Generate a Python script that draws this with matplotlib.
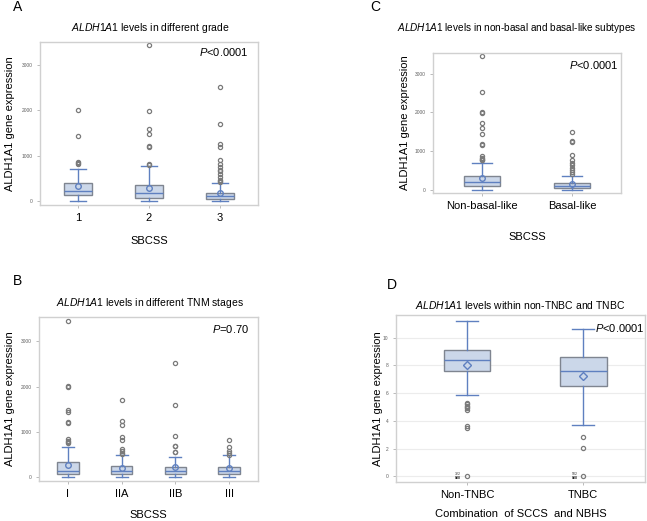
import matplotlib
matplotlib.use("Agg")
import matplotlib.pyplot as plt

plt.rcParams["font.family"] = ["Liberation Sans", "DejaVu Sans"]
plt.rcParams["mathtext.fontset"] = "custom"
plt.rcParams["mathtext.it"] = "Liberation Sans:italic"
plt.rcParams["mathtext.rm"] = "Liberation Sans"

# panel A: grade
a_labels = ["1", "2", "3"]
a_q1 = [125, 66, 52]
a_med = [228, 170, 110]
a_q3 = [390, 346, 184]
a_lo = [0, 0, 0]
a_hi = [700, 774, 405]
a_mean = [330, 287, 170]
a_out = [[2020, 1430, 862, 830, 810],
         [3450, 1990, 1590, 1475, 1225, 1195, 811, 790],
         [2520, 1710, 1253, 1194, 899, 818, 759, 685, 670, 590, 538, 472, 450, 427]]

# panel B: TNM stage
b_labels = ["I", "IIA", "IIB", "III"]
b_q1 = [66, 73, 66, 73]
b_med = [139, 147, 139, 147]
b_q3 = [337, 242, 220, 235]
b_lo = [0, 0, 0, 0]
b_hi = [675, 492, 455, 484]
b_mean = [271, 213, 225, 198]
b_out = [[3441, 2010, 1990, 1482, 1438, 1211, 1190, 844, 800, 775, 760],
         [1709, 1247, 1159, 880, 829, 616, 575, 545, 510],
         [2524, 1592, 902, 697, 680, 565, 550],
         [822, 675, 587, 528, 492]]

# panel C: subtype
c_labels = ["Non-basal-like", "Basal-like"]
c_q1 = [103, 43]
c_med = [198, 103]
c_q3 = [353, 172]
c_lo = [0, 0]
c_hi = [698, 353]
c_mean = [302, 147]
c_out = [[3448, 2526, 2009, 1990, 1716, 1603, 1431, 1190, 1150, 871, 830, 802, 780, 760],
         [1483, 1250, 1230, 897, 759, 690, 629, 569, 500, 448, 405]]

# panel D: TNBC
d_labels = ["Non-TNBC", "TNBC"]
d_q1 = [7.61, 6.53]
d_med = [8.39, 7.59]
d_q3 = [9.11, 8.63]
d_lo = [5.86, 3.69]
d_hi = [11.23, 10.63]
d_mean = [8.02, 7.23]
d_out = [[5.3, 5.2, 5.1, 5.0, 4.9, 4.8, 3.6, 3.5, 0],
         [2.84, 2.02, 0]]
d_ids = ["322", "502"]

BOX_FILL = "#cbd7e9"
BOX_EDGE = "#7f8590"
BLUE = "#5f80c0"
FRAME = "#d0d0d0"
W, H = 647, 521


def make_stats(q1, med, q3, lo, hi, mean, out):
    return [dict(q1=q1[i], med=med[i], q3=q3[i], whislo=lo[i], whishi=hi[i],
                 mean=mean[i], fliers=out[i]) for i in range(len(q1))]


def panel(rect, stats, labels, yticks, ylim, title, title_pos, ptext, ppos, letter,
          letter_pos, xlabel, xlabel_y, ylabel_x, mean_marker="o", cap=0.22, grid=False,
          title_size=7.5):
    l, r, t, b = rect
    ax = fig.add_axes([l / W, 1 - b / H, (r - l) / W, (b - t) / H])
    ax.bxp(stats, widths=0.4, showmeans=True, patch_artist=True, showcaps=True,
           capwidths=cap,
           boxprops=dict(facecolor=BOX_FILL, edgecolor=BOX_EDGE, linewidth=1.0),
           medianprops=dict(color=BLUE, linewidth=1.0),
           whiskerprops=dict(color=BLUE, linewidth=1.0),
           capprops=dict(color=BLUE, linewidth=1.0),
           meanprops=dict(marker=mean_marker, markerfacecolor="none",
                          markeredgecolor=BLUE, markersize=4, markeredgewidth=1.0),
           flierprops=dict(marker="o", markerfacecolor="none",
                           markeredgecolor="#7a7a7a", markersize=3, markeredgewidth=0.9))
    ax.set_ylim(*ylim)
    n = len(labels)
    ax.set_xlim(0.46, n + 0.54)
    ax.set_yticks(yticks)
    ax.set_yticklabels([str(v) for v in yticks], fontsize=3.5, color="#606060")
    ax.set_xticks(range(1, n + 1))
    ax.set_xticklabels(labels, fontsize=8)
    ax.tick_params(axis="both", length=2, width=0.5, color="#a0a0a0")
    ax.tick_params(axis="x", pad=4)
    for s in ax.spines.values():
        s.set_color(FRAME)
        s.set_linewidth(1.0)
    if grid:
        ax.yaxis.grid(True, color="#ececec", linewidth=0.8)
        ax.set_axisbelow(True)
    fig.text(ppos[0] / W, 1 - ppos[1] / H, ptext, fontsize=8, va="center", ha="left")
    fig.text(title_pos[0] / W, 1 - title_pos[1] / H, title, fontsize=title_size,
             ha="center", va="center")
    fig.text(letter_pos[0] / W, 1 - letter_pos[1] / H, letter, fontsize=10, va="center")
    fig.text((l + r) / 2 / W, 1 - xlabel_y / H, xlabel, fontsize=8, ha="center", va="center")
    fig.text(ylabel_x / W, 1 - (t + b) / 2 / H, "ALDH1A1 gene expression", fontsize=8,
             rotation=90, ha="center", va="center")
    return ax


fig = plt.figure(figsize=(6.47, 5.21), dpi=100)

panel((40, 258, 42, 205), make_stats(a_q1, a_med, a_q3, a_lo, a_hi, a_mean, a_out),
      a_labels, [0, 1000, 2000, 3000], (-88, 3510),
      r"$\mathit{ALDH1A1}$ levels in different grade", (150, 28), r"$\mathit{P}$<0.0001",
      (199, 52), "A", (13, 7), "SBCSS", 241, 10)

panel((39, 258, 317, 481), make_stats(b_q1, b_med, b_q3, b_lo, b_hi, b_mean, b_out),
      b_labels, [0, 1000, 2000, 3000], (-81, 3536),
      r"$\mathit{ALDH1A1}$ levels in different TNM stages", (150, 303), r"$\mathit{P}$=0.70",
      (212, 329), "B", (13, 281), "SBCSS", 515, 10)

panel((433, 621, 53, 193), make_stats(c_q1, c_med, c_q3, c_lo, c_hi, c_mean, c_out),
      c_labels, [0, 1000, 2000, 3000], (-86, 3534),
      r"$\mathit{ALDH1A1}$ levels in non-basal and basal-like subtypes", (517, 28),
      r"$\mathit{P}$<0.0001", (569, 65), "C", (370, 7), "SBCSS", 237, 405, title_size=7.2)

ax_d = panel((396, 645, 315, 482), make_stats(d_q1, d_med, d_q3, d_lo, d_hi, d_mean, d_out),
             d_labels, [0, 2, 4, 6, 8, 10], (-0.41, 11.64),
             r"$\mathit{ALDH1A1}$ levels within non-TNBC and TNBC", (520, 305),
             r"$\mathit{P}$<0.0001", (595, 328), "D", (387, 285),
             "Combination  of SCCS  and NBHS", 514, 378,
             mean_marker="D", cap=0.19, grid=True)
ax_d.set_xlim(0.39, 2.53)
for i, lab in enumerate(d_ids):
    ax_d.text(i + 1 - 0.05, 0.05, lab, fontsize=2.5, ha="right", va="bottom", color="#303030")
    ax_d.text(i + 1 - 0.05, 0.0, "888", fontsize=2.5, ha="right", va="top",
              color="#202020", fontweight="bold")

fig.savefig("out.png", dpi=100)
